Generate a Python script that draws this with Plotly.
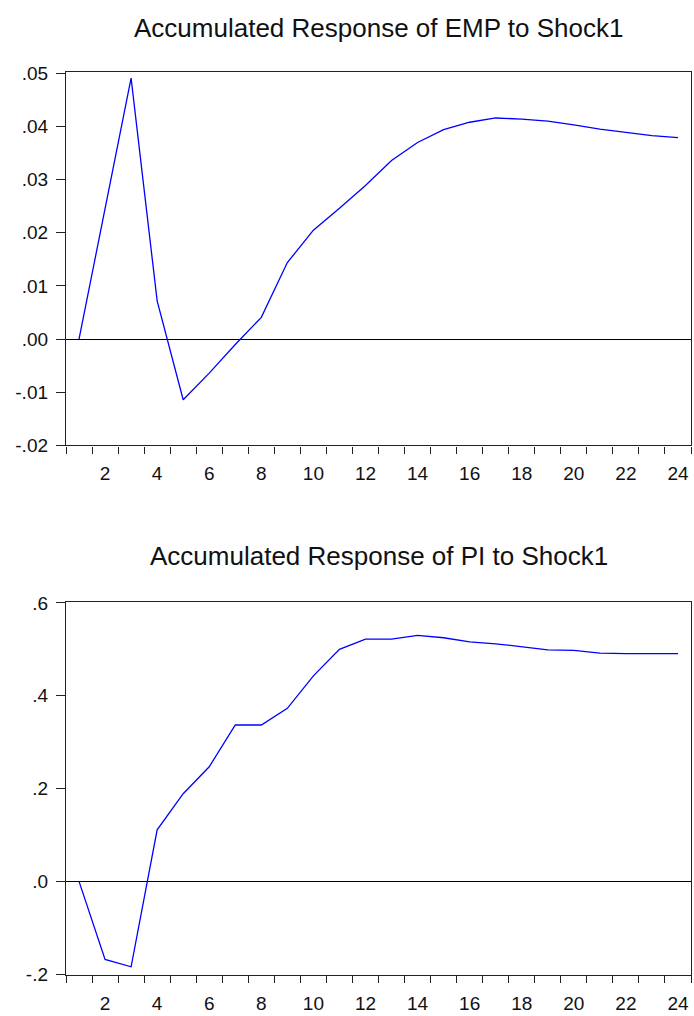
import plotly.graph_objects as go
from plotly.subplots import make_subplots

# Response horizon (periods)
periods = list(range(1, 25))

# Accumulated response of EMP to Shock1
emp_response = [0.0, 0.0245, 0.0491, 0.0072, -0.0114, -0.0064, -0.0010, 0.0041,
                0.0144, 0.0205, 0.0246, 0.0289, 0.0336, 0.0370, 0.0394, 0.0408,
                0.0416, 0.0414, 0.0410, 0.0403, 0.0395, 0.0389, 0.0383, 0.0379]

# Accumulated response of PI to Shock1
pi_response = [0.0, -0.168, -0.184, 0.111, 0.189, 0.247, 0.337, 0.337,
               0.373, 0.443, 0.500, 0.522, 0.522, 0.530, 0.525, 0.516,
               0.512, 0.506, 0.499, 0.498, 0.492, 0.491, 0.491, 0.491]

emp_ticks = [-0.02, -0.01, 0.0, 0.01, 0.02, 0.03, 0.04, 0.05]
emp_ticktext = ["-.02", "-.01", ".00", ".01", ".02", ".03", ".04", ".05"]
pi_ticks = [-0.2, 0.0, 0.2, 0.4, 0.6]
pi_ticktext = ["-.2", ".0", ".2", ".4", ".6"]
x_labels = list(range(2, 25, 2))
x_boundaries = [k + 0.5 for k in range(0, 25)]

titles = ["Accumulated Response of EMP to Shock1",
          "Accumulated Response of PI to Shock1"]

FONT = "Liberation Sans, Arial, sans-serif"
W, H = 694, 1016
M_T, M_B, M_L, M_R = 72, 38, 66, 2
plot_h = H - M_T - M_B

def frac(px_from_top):
    return (H - M_B - px_from_top) / plot_h

fig = make_subplots(rows=2, cols=1)

fig.add_trace(go.Scatter(x=periods, y=emp_response, mode="lines",
                         line=dict(color="#0000FF", width=1.3),
                         showlegend=False), row=1, col=1)
fig.add_trace(go.Scatter(x=periods, y=pi_response, mode="lines",
                         line=dict(color="#0000FF", width=1.3),
                         showlegend=False), row=2, col=1)

xaxis_common = dict(
    range=[0.5, 24.5],
    tickvals=x_labels,
    ticktext=[str(v) for v in x_labels],
    ticks="",
    ticklabelstandoff=11,
    showgrid=False,
    zeroline=False,
    showline=True, linecolor="#222222", linewidth=1.3, mirror=True,
    tickfont=dict(family=FONT, size=19, color="#111111"),
    minor=dict(tickvals=x_boundaries, ticks="outside", ticklen=7,
               tickcolor="#222222", tickwidth=1.2, showgrid=False),
)
yaxis_common = dict(
    ticks="outside", ticklen=9, tickcolor="#222222", tickwidth=1.2,
    ticklabelstandoff=4,
    showgrid=False,
    zeroline=True, zerolinecolor="#000000", zerolinewidth=1.3,
    showline=True, linecolor="#222222", linewidth=1.3, mirror=True,
    tickfont=dict(family=FONT, size=19, color="#111111"),
)

fig.update_layout(
    width=W, height=H,
    margin=dict(l=M_L, r=M_R, t=M_T, b=M_B),
    paper_bgcolor="white", plot_bgcolor="white",
    xaxis=dict(xaxis_common, domain=[0, 1]),
    xaxis2=dict(xaxis_common, domain=[0, 1]),
    yaxis=dict(yaxis_common, domain=[frac(446.7), 1.0],
               range=[-0.02, 0.05025], tickvals=emp_ticks,
               ticktext=emp_ticktext),
    yaxis2=dict(yaxis_common, domain=[0.0, frac(603.5)],
                range=[-0.2017, 0.6026], tickvals=pi_ticks,
                ticktext=pi_ticktext),
)

# Panel titles
for title, y_px in zip(titles, [28, 558]):
    fig.add_annotation(text=title, xref="paper", yref="paper",
                       x=0.5, y=frac(y_px), xanchor="center", yanchor="middle",
                       showarrow=False,
                       font=dict(family=FONT, size=26, color="#111111"))

fig.write_html("out.html")
